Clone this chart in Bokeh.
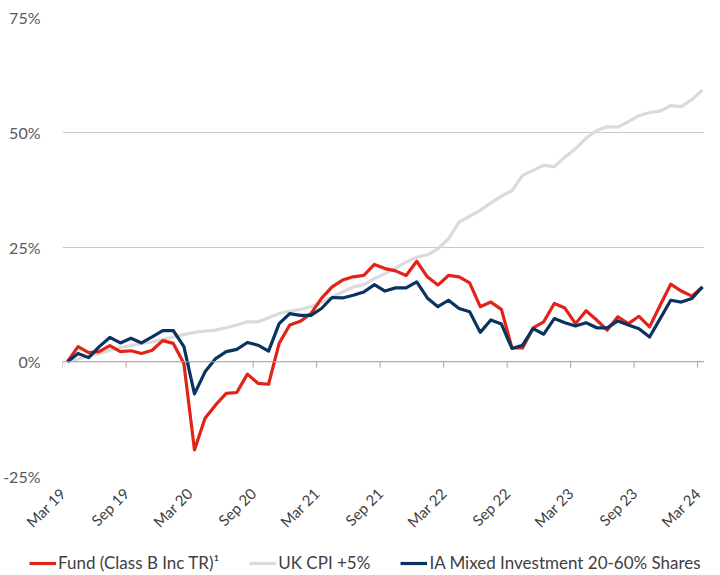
import math
from bokeh.plotting import figure
from bokeh.models import (FixedTicker, Legend, LegendItem, Range1d, Span,
                          PrintfTickFormatter)
from bokeh.embed import file_html
from bokeh.resources import INLINE

# ---- data (monthly cumulative returns, %) ----
months = list(range(61))  # Mar 19 .. Mar 24

fund = [0, 3.3, 2.0, 2.2, 3.5, 2.2, 2.4, 1.8, 2.5, 4.6, 4.0, -0.4,
        -19.2, -12.3, -9.4, -6.9, -6.7, -2.7, -4.7, -4.9,
        4.0, 8.0, 8.8, 10.5, 13.8, 16.3, 17.8, 18.5, 18.8, 21.2, 20.3, 19.8,
        18.8, 21.9, 18.5, 16.7, 18.8, 18.5, 17.2, 12.0, 13.0, 11.4,
        3.0, 3.0, 7.4, 8.7, 12.7, 11.7, 8.3, 11.1, 9.1, 6.9, 9.8, 8.3,
        9.9, 7.6, 12.3, 16.9, 15.4, 14.3, 16.3]

cpi = [0, 0.6, 1.2, 1.8, 2.5, 3.1, 3.5, 4.0, 4.3, 4.9, 5.4, 5.9,
       6.4, 6.7, 6.9, 7.4, 8.0, 8.7, 8.7, 9.6,
       10.5, 11.0, 11.4, 12.0, 12.9, 14.1, 15.2, 16.3, 16.8, 18.1, 19.2, 20.4,
       21.7, 22.8, 23.3, 24.6, 26.8, 30.4, 31.7, 33.0, 34.6, 36.1,
       37.3, 40.6, 41.7, 42.8, 42.5, 44.6, 46.4, 48.7, 50.4, 51.2, 51.1, 52.3,
       53.6, 54.3, 54.6, 55.8, 55.6, 57.1, 59.2]

ia = [0, 1.8, 0.9, 3.3, 5.3, 4.1, 5.1, 4.1, 5.4, 6.8, 6.8, 3.3,
      -7.0, -2.2, 0.7, 2.2, 2.7, 4.2, 3.6, 2.3,
      8.3, 10.5, 10.1, 10.1, 11.6, 14.0, 13.9, 14.5, 15.2, 16.8, 15.4, 16.1,
      16.1, 17.4, 13.9, 12.0, 13.4, 11.6, 10.9, 6.4, 9.1, 8.2,
      2.9, 3.6, 7.2, 6.0, 9.4, 8.5, 7.8, 8.5, 7.4, 7.4, 8.9, 8.0,
      7.2, 5.4, 9.4, 13.4, 13.0, 13.8, 16.3]

tick_labels = ["Mar 19", "Sep 19", "Mar 20", "Sep 20", "Mar 21", "Sep 21",
               "Mar 22", "Sep 22", "Mar 23", "Sep 23", "Mar 24"]
tick_months = [0, 6, 12, 18, 24, 30, 36, 42, 48, 54, 60]
y_ticks = [-25, 0, 25, 50, 75]

series_names = ["Fund (Class B Inc TR)\u00b9", "UK CPI +5%",
                "IA Mixed Investment 20-60% Shares"]

# ---- styling ----
FONT = "Lato"
RED = "#E2231A"
GREY = "#DADADA"
NAVY = "#0B3362"
AXIS_GREY = "#A6A6A6"
LW = 3.2

tick_pos = [m - 0.46 for m in tick_months]

p = figure(width=704, height=540,
           x_range=Range1d(-0.47, 60.19), y_range=Range1d(-25, 75),
           output_backend="svg", toolbar_location=None,
           min_border_left=54, min_border_right=0, min_border_top=17,
           min_border_bottom=63)
p.outline_line_color = None

# zero axis line and its tick marks
p.add_layout(Span(location=0, dimension="width", line_color=AXIS_GREY,
                  line_width=1))
tick_len = 1.3  # in % units (~6px)
p.segment(x0=tick_pos, y0=[0] * len(tick_pos), x1=tick_pos,
          y1=[-tick_len] * len(tick_pos), line_color=AXIS_GREY, line_width=1)

p.line(months, cpi, line_color=GREY, line_width=LW, line_join="round")
p.line(months, fund, line_color=RED, line_width=LW, line_join="round")
p.line(months, ia, line_color=NAVY, line_width=LW, line_join="round")

# x axis (labels only)
xa = p.xaxis[0]
xa.ticker = FixedTicker(ticks=tick_pos)
xa.major_label_overrides = {t: lab for t, lab in zip(tick_pos, tick_labels)}
xa.major_label_orientation = math.pi / 4
xa.axis_line_color = None
xa.major_tick_line_color = None
xa.minor_tick_line_color = None
xa.major_label_standoff = 8
xa.major_label_text_font = FONT
xa.major_label_text_font_size = "15px"
xa.major_label_text_color = "#404040"

# y axis
ya = p.yaxis[0]
ya.ticker = FixedTicker(ticks=y_ticks)
ya.formatter = PrintfTickFormatter(format="%d%%")
ya.axis_line_color = None
ya.major_tick_line_color = None
ya.minor_tick_line_color = None
ya.major_label_standoff = 16
ya.major_label_text_font = FONT
ya.major_label_text_font_size = "16px"
ya.major_label_text_color = "#595959"

p.xgrid.grid_line_color = None
p.ygrid.ticker = FixedTicker(ticks=y_ticks)
p.ygrid.grid_line_color = "#C8C8C8"
p.ygrid.grid_line_width = 1

# ---- legend strip (separate small figure, same series & line styles,
#      with its view range set away from the data so only the legend shows) ----
lf = figure(width=704, height=35, output_backend="svg", toolbar_location=None,
            min_border=0, x_range=Range1d(-20, -19), y_range=Range1d(-200, -199))
lf.axis.visible = False
lf.grid.visible = False
lf.outline_line_color = None
l_fund = lf.line(months, fund, line_color=RED, line_width=LW)
l_cpi = lf.line(months, cpi, line_color=GREY, line_width=LW)
l_ia = lf.line(months, ia, line_color=NAVY, line_width=LW)

legend = Legend(items=[LegendItem(label=series_names[0], renderers=[l_fund]),
                       LegendItem(label=series_names[1], renderers=[l_cpi]),
                       LegendItem(label=series_names[2], renderers=[l_ia])],
                orientation="horizontal", location=(29, 2),
                border_line_color=None, background_fill_alpha=0,
                label_text_font=FONT, label_text_font_size="17px",
                label_text_color="#404040", glyph_width=27, glyph_height=20,
                label_standoff=2, spacing=30, padding=0, margin=0)
lf.add_layout(legend, "center")

open("out.html", "w").write(file_html([p, lf], INLINE))
